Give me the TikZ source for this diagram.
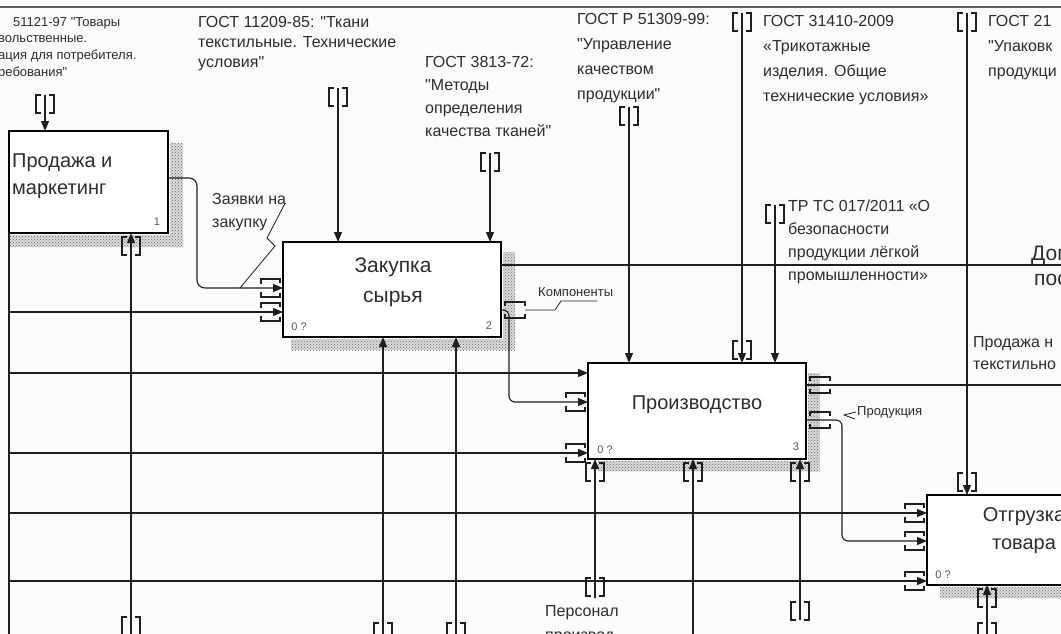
\documentclass[tikz,border=0pt]{standalone}
\usepackage{fontspec}
\setmainfont{Liberation Sans}[Ligatures=TeXOff]
\usetikzlibrary{arrows.meta,patterns,backgrounds,calc}
\definecolor{LineDark}{RGB}{30,30,30}
\definecolor{TextDark}{RGB}{45,45,45}
\definecolor{PaperGray}{RGB}{251,251,251}
\definecolor{FrameGray}{RGB}{95,95,95}

\newcommand{\fs}[2]{\fontsize{#1}{#2}\selectfont}
% скобки туннелей
\newcommand{\tunV}[1]{\draw[tunnel] (#1) ++(-4,0) -- ++(-5,0) -- ++(0,18) -- ++(5,0)
  (#1) ++(4,0) -- ++(5,0) -- ++(0,18) -- ++(-5,0);}
\newcommand{\tunIn}[1]{\draw[tunnel] (#1) ++(-22,-4) -- ++(0,-5) -- ++(19,0) -- ++(0,4)
  (#1) ++(-22,4) -- ++(0,5) -- ++(19,0) -- ++(0,-4);}
\newcommand{\tunOut}[1]{\draw[tunnel] (#1) ++(4,-4) -- ++(0,-4) -- ++(20,0) -- ++(0,4)
  (#1) ++(4,4) -- ++(0,4) -- ++(20,0) -- ++(0,-4);}

\begin{document}
\begin{tikzpicture}[x=1pt, y=-1pt,
	box/.style={draw=black, line width=2.6pt, fill=white, inner sep=0pt, outer sep=0pt, anchor=north west},
	flow/.style={draw=LineDark, line width=1.1pt, -{Triangle[length=10pt,width=8pt]}},
	plain/.style={draw=LineDark, line width=1.1pt},
	tunnel/.style={draw=LineDark, line width=1.1pt},
	squig/.style={draw=LineDark, line width=0.8pt},
	hatch/.style={fill=gray!28, postaction={pattern=crosshatch dots, pattern color=black!60}},
	txt/.style={text=TextDark, inner sep=0pt, align=left, anchor=north west},
	num/.style={text=TextDark!80, inner sep=0pt, font=\fs{11}{13}}]
		\useasboundingbox (0,0) rectangle (1061,634);
		\clip (0,0) rectangle (1061,634);
		% блоки
		\node[box, minimum width=159pt, minimum height=102pt] (sales) at (9,131) {};
		\node[box, minimum width=218pt, minimum height=95pt] (purchase) at (283,242) {};
		\node[box, minimum width=218pt, minimum height=96pt] (production) at (588,363) {};
		\node[box, minimum width=220pt, minimum height=90pt] (shipping) at (927,495) {};
		\node[txt, font=\fs{20}{27}] (salesT) at (12,154) {Продажа и\\маркетинг};
		\node[txt, anchor=center, align=center, font=\fs{21}{30}] (purchaseT) at (393,282) {Закупка\\сырья};
		\node[txt, anchor=center, font=\fs{20}{24}] (productionT) at (697,405) {Производство};
		\node[txt, anchor=center, align=center, font=\fs{20}{28}] (shippingT) at (1024,531) {Отгрузка\\товара};
		\node[num] (salesN) at (157,222) {1};
		\node[num] (purchase0) at (299,327) {0 ?};
		\node[num] (purchaseN) at (489,326) {2};
		\node[num] (production0) at (605,450) {0 ?};
		\node[num] (productionN) at (796,447) {3};
		\node[num] (shipping0) at (943,575) {0 ?};
		% концы стрелок
		\coordinate (fr) at (9,0);
		\coordinate (cSt) at (45,95);
		\coordinate (cTkani) at (338,88);
		\coordinate (cMetody) at (490,153);
		\coordinate (cUpr) at (629,107);
		\coordinate (cTrik) at (742,13);
		\coordinate (cTR) at (775,205);
		\coordinate (cUpak) at (967,13);
		\coordinate (mSales) at (131,640);
		\coordinate (mPurch1) at (383,640);
		\coordinate (mPurch2) at (456,640);
		\coordinate (mPers) at (595,598);
		\coordinate (mProd2) at (693,640);
		\coordinate (mProd3) at (800,620);
		\coordinate (mShip) at (987,640);
		\coordinate (outDoc) at (1065,265);
		\coordinate (outSale) at (1065,385);
		% рамка
		\draw[FrameGray, line width=2pt] (0,7) -- (1061,7);
		\draw[plain] (sales.south west) -- (fr |- 0,640);
		% управление
		\draw[flow] (cSt) -- (cSt |- sales.north);
		\draw[flow] (cTkani) -- (cTkani |- purchase.north);
		\draw[flow] (cMetody) -- (cMetody |- purchase.north);
		\draw[flow] (cUpr) -- (cUpr |- production.north);
		\draw[flow] (cTrik) -- (cTrik |- production.north);
		\draw[flow] (cTR) -- (cTR |- production.north);
		\draw[flow] (cUpak) -- (cUpak |- shipping.north);
		\tunV{cSt} \tunV{cTkani} \tunV{cMetody} \tunV{cUpr}
		\tunV{cTrik} \tunV{cTR} \tunV{cUpak}
		\tunV{$(cTrik |- production.north)+(0,-22)$}
		\tunV{$(cUpak |- shipping.north)+(0,-22)$}
		% механизмы
		\draw[flow] (mSales) -- (mSales |- sales.south);
		\draw[flow] (mPurch1) -- (mPurch1 |- purchase.south);
		\draw[flow] (mPurch2) -- (mPurch2 |- purchase.south);
		\draw[flow] (mPers) -- (mPers |- production.south);
		\draw[flow] (mProd2) -- (mProd2 |- production.south);
		\draw[flow] (mProd3) -- (mProd3 |- production.south);
		\draw[flow] (mShip) -- (mShip |- shipping.south);
		\tunV{$(mSales)+(0,-23)$} \tunV{$(mSales |- sales.south)+(0,4)$}
		\tunV{$(mPurch1)+(0,-17)$} \tunV{$(mPurch2)+(0,-17)$}
		\tunV{$(mPers)+(0,-20)$} \tunV{$(mPers |- production.south)+(0,4)$}
		\tunV{$(mProd2 |- production.south)+(0,4)$}
		\tunV{$(mProd3)+(0,-18)$} \tunV{$(mProd3 |- production.south)+(0,4)$}
		\tunV{$(mShip)+(0,-17)$} \tunV{$(mShip |- shipping.south)+(0,4)$}
		% входы
		\draw[flow, rounded corners=8pt] (sales.east |- 0,178) -- (197,178) -- (197,288) -- (purchase.west |- 0,288);
		\draw[flow] (fr |- 0,312) -- (purchase.west |- 0,312);
		\tunIn{purchase.west |- 0,288} \tunIn{purchase.west |- 0,312}
		\draw[flow] (fr |- 0,373) -- (production.west |- 0,373);
		\draw[flow, rounded corners=6pt] (purchase.east |- 0,310) -- (509,310) -- (509,402) -- (production.west |- 0,402);
		\tunOut{purchase.east |- 0,310} \tunIn{production.west |- 0,402}
		\draw[flow] (fr |- 0,453) -- (production.west |- 0,453);
		\tunIn{production.west |- 0,453}
		\draw[flow] (fr |- 0,513) -- (shipping.west |- 0,513);
		\tunIn{shipping.west |- 0,513}
		\draw[flow, rounded corners=6pt] (production.east |- 0,420) -- (842,420) -- (842,541) -- (shipping.west |- 0,541);
		\tunOut{production.east |- 0,420} \tunIn{shipping.west |- 0,541}
		\draw[flow] (fr |- 0,581) -- (shipping.west |- 0,581);
		\tunIn{shipping.west |- 0,581}
		% выходы
		\draw[plain] (purchase.east |- 0,265) -- (outDoc);
		\draw[plain] (production.east |- 0,385) -- (outSale);
		\tunOut{production.east |- 0,385}
		% подписи
		\node[txt, font=\fs{13}{17}, anchor=west] (lblSt1) at (13,23) {51121-97 "Товары};
		\node[txt, font=\fs{13}{17}] (lblSt2) at (-2,35) {вольственные.\\ация для потребителя.\\ребования"};
		\node[txt, font=\fs{16}{20}] (lblTkani) at (198,16) {ГОСТ 11209-85: "Ткани\\текстильные. Технические\\условия"};
		\node[txt, font=\fs{16}{23}] (lblMetody) at (425,56) {ГОСТ 3813-72:\\"Методы\\определения\\качества тканей"};
		\node[txt, font=\fs{16}{25}] (lblUpr) at (577,13) {ГОСТ Р 51309-99:\\"Управление\\качеством\\продукции"};
		\node[txt, font=\fs{16}{25}] (lblTrik) at (763,15) {ГОСТ 31410-2009\\«Трикотажные\\изделия. Общие\\технические условия»};
		\node[txt, font=\fs{16}{23}] (lblTR) at (788,200) {ТР ТС 017/2011 «О\\безопасности\\продукции лёгкой\\промышленности»};
		\node[txt, font=\fs{16}{25}] (lblUpak) at (988,15) {ГОСТ 21\\"Упаковк\\продукци};
		\node[txt, font=\fs{16}{23}] (lblZayavki) at (212,193) {Заявки на\\закупку};
		\node[txt, font=\fs{13}{15}, anchor=west] (lblKomp) at (538,292) {Компоненты};
		\node[txt, font=\fs{13}{15}, anchor=west] (lblProd) at (857,412) {Продукция};
		\node[txt, font=\fs{16}{22}] (lblSale) at (973,336) {Продажа н\\текстильно};
		\node[txt, font=\fs{21}{24}, anchor=west] (lblDoc1) at (1031,255) {Дог};
		\node[txt, font=\fs{21}{24}, anchor=west] (lblDoc2) at (1034,280) {пос};
		\node[txt, font=\fs{16}{20}, anchor=west] (lblPers1) at (545,613) {Персонал};
		\node[txt, font=\fs{16}{20}, anchor=west] (lblPers2) at (545,638) {производ};
		% молнии подписей
		\draw[squig] ([xshift=-1pt,yshift=-10pt]lblZayavki.north east) -- (267,238) -- (275,246) -- (240,288);
		\draw[squig] ($(purchase.east |- 0,310)+(24,0)$) -- ++(30,0) -- ++(6,-9) -- ++(36,0);
		\draw[squig] ([xshift=-1pt]lblProd.west) -- ++(-12,3) -- ++(11,4);
		% фон и тени
		\begin{scope}[on background layer]
			\fill[PaperGray] (0,0) rectangle (1061,634);
			\fill[hatch] ([xshift=2pt,yshift=-12pt]sales.north east) rectangle ([xshift=15pt,yshift=-14pt]sales.south east);
			\fill[hatch] ([xshift=1pt,yshift=-2pt]sales.south west) rectangle ([xshift=15pt,yshift=-14pt]sales.south east);
			\fill[hatch] ([xshift=2pt,yshift=-10pt]purchase.north east) rectangle ([xshift=14pt,yshift=-13pt]purchase.south east);
			\fill[hatch] ([xshift=8pt,yshift=-2pt]purchase.south west) rectangle ([xshift=14pt,yshift=-13pt]purchase.south east);
			\fill[hatch] ([xshift=2pt,yshift=-10pt]production.north east) rectangle ([xshift=14pt,yshift=-12pt]production.south east);
			\fill[hatch] ([xshift=10pt,yshift=-2pt]production.south west) rectangle ([xshift=14pt,yshift=-12pt]production.south east);
			\fill[hatch] ([xshift=13pt,yshift=-2pt]shipping.south west) rectangle ([xshift=14pt,yshift=-13pt]shipping.south east);
		\end{scope}
\end{tikzpicture}
\end{document}
